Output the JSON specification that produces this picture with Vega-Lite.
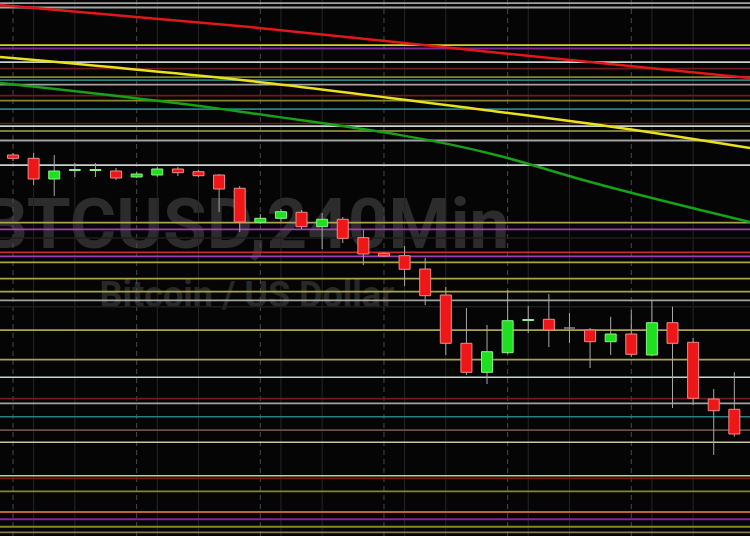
{
  "$schema": "https://vega.github.io/schema/vega-lite/v6.json",
  "autosize": {"type": "none"},
  "width": 750,
  "height": 536,
  "padding": 0,
  "background": "#050505",
  "config": {"view": {"stroke": null}},
  "resolve": {"scale": {"color": "independent"}},
  "datasets": {
    "labels": [
      {"i": 11.3, "price": 17520, "label": "BTCUSD,240Min", "role": "symbol"},
      {"i": 11.35, "price": 16930, "label": "Bitcoin / US Dollar", "role": "name"}
    ],
    "grid": [
      {"i": 0, "style": "major"}, {"i": 6, "style": "major"}, {"i": 12, "style": "major"},
      {"i": 18, "style": "major"}, {"i": 24, "style": "major"}, {"i": 30, "style": "major"},
      {"i": 1, "style": "minor"}, {"i": 3, "style": "minor"}, {"i": 7, "style": "minor"},
      {"i": 9, "style": "minor"}, {"i": 13, "style": "minor"}, {"i": 15, "style": "minor"},
      {"i": 19, "style": "minor"}, {"i": 21, "style": "minor"}, {"i": 25, "style": "minor"},
      {"i": 27, "style": "minor"}, {"i": 31, "style": "minor"}, {"i": 33, "style": "minor"}
    ],
    "levels": [
      {"price": 19970, "kind": "gray", "weight": "normal"},
      {"price": 19925, "kind": "gray", "weight": "thick"},
      {"price": 19550, "kind": "yellow", "weight": "normal"},
      {"price": 19515, "kind": "purple", "weight": "thick"},
      {"price": 19380, "kind": "silver", "weight": "normal"},
      {"price": 19315, "kind": "maroon", "weight": "normal"},
      {"price": 19230, "kind": "olive", "weight": "normal"},
      {"price": 19200, "kind": "teal", "weight": "normal"},
      {"price": 19155, "kind": "gray", "weight": "normal"},
      {"price": 19045, "kind": "maroon", "weight": "normal"},
      {"price": 18995, "kind": "olive", "weight": "normal"},
      {"price": 18910, "kind": "teal", "weight": "normal"},
      {"price": 18765, "kind": "maroon", "weight": "thin"},
      {"price": 18740, "kind": "silver", "weight": "normal"},
      {"price": 18690, "kind": "khaki", "weight": "thin"},
      {"price": 18595, "kind": "gray", "weight": "thick"},
      {"price": 18350, "kind": "silver", "weight": "normal"},
      {"price": 17773, "kind": "khaki", "weight": "normal"},
      {"price": 17707, "kind": "violet", "weight": "normal"},
      {"price": 17620, "kind": "faint", "weight": "thin"},
      {"price": 17477, "kind": "red", "weight": "normal"},
      {"price": 17437, "kind": "violet", "weight": "normal"},
      {"price": 17377, "kind": "khaki", "weight": "normal"},
      {"price": 17213, "kind": "khaki", "weight": "normal"},
      {"price": 17083, "kind": "khaki", "weight": "normal"},
      {"price": 16997, "kind": "gray", "weight": "normal"},
      {"price": 16933, "kind": "faint", "weight": "thin"},
      {"price": 16700, "kind": "khaki", "weight": "normal"},
      {"price": 16405, "kind": "khaki", "weight": "normal"},
      {"price": 16227, "kind": "silver", "weight": "thin"},
      {"price": 16013, "kind": "maroon", "weight": "normal"},
      {"price": 15967, "kind": "gray", "weight": "normal"},
      {"price": 15833, "kind": "teal", "weight": "thin"},
      {"price": 15700, "kind": "brown", "weight": "normal"},
      {"price": 15577, "kind": "cream", "weight": "thin"},
      {"price": 15243, "kind": "cream", "weight": "thin"},
      {"price": 15217, "kind": "maroon", "weight": "normal"},
      {"price": 15087, "kind": "olive", "weight": "normal"},
      {"price": 14880, "kind": "orange", "weight": "thick"},
      {"price": 14807, "kind": "purple", "weight": "thick"},
      {"price": 14733, "kind": "olive", "weight": "thick"},
      {"price": 14677, "kind": "tan", "weight": "normal"}
    ],
    "ma": [
      {"series": "ma200", "i": -0.631, "price": 19950},
      {"series": "ma200", "i": 11.5, "price": 19730},
      {"series": "ma200", "i": 23.63, "price": 19470},
      {"series": "ma200", "i": 28.48, "price": 19370},
      {"series": "ma200", "i": 35.76, "price": 19220},
      {"series": "ma100", "i": -0.631, "price": 19430},
      {"series": "ma100", "i": 11.5, "price": 19190},
      {"series": "ma100", "i": 23.63, "price": 18880},
      {"series": "ma100", "i": 28.48, "price": 18750},
      {"series": "ma100", "i": 35.76, "price": 18520},
      {"series": "ma50", "i": -0.631, "price": 19170},
      {"series": "ma50", "i": 11.5, "price": 18870},
      {"series": "ma50", "i": 23.63, "price": 18440},
      {"series": "ma50", "i": 27.66, "price": 18200},
      {"series": "ma50", "i": 35.76, "price": 17780}
    ],
    "candles": [
      {"i": 0, "open": 18450, "high": 18470, "low": 18390, "close": 18417},
      {"i": 1, "open": 18417, "high": 18470, "low": 18150, "close": 18210},
      {"i": 2, "open": 18210, "high": 18450, "low": 18040, "close": 18290},
      {"i": 3, "open": 18295, "high": 18370, "low": 18230, "close": 18305},
      {"i": 4, "open": 18295, "high": 18370, "low": 18230, "close": 18305},
      {"i": 5, "open": 18290, "high": 18320, "low": 18200, "close": 18220},
      {"i": 6, "open": 18230, "high": 18280, "low": 18220, "close": 18260},
      {"i": 7, "open": 18250, "high": 18330, "low": 18230, "close": 18310},
      {"i": 8, "open": 18310, "high": 18330, "low": 18240, "close": 18273},
      {"i": 9, "open": 18283, "high": 18300, "low": 18230, "close": 18243},
      {"i": 10, "open": 18250, "high": 18260, "low": 17880, "close": 18110},
      {"i": 11, "open": 18117, "high": 18140, "low": 17680, "close": 17780},
      {"i": 12, "open": 17777, "high": 17860, "low": 17760, "close": 17817},
      {"i": 13, "open": 17817, "high": 17910, "low": 17783, "close": 17883},
      {"i": 14, "open": 17877, "high": 17900, "low": 17710, "close": 17733},
      {"i": 15, "open": 17733, "high": 17870, "low": 17510, "close": 17807},
      {"i": 16, "open": 17807, "high": 17830, "low": 17570, "close": 17617},
      {"i": 17, "open": 17623, "high": 17700, "low": 17350, "close": 17460},
      {"i": 18, "open": 17467, "high": 17480, "low": 17430, "close": 17440},
      {"i": 19, "open": 17443, "high": 17540, "low": 17140, "close": 17307},
      {"i": 20, "open": 17310, "high": 17420, "low": 16950, "close": 17043},
      {"i": 21, "open": 17050, "high": 17130, "low": 16450, "close": 16567},
      {"i": 22, "open": 16567, "high": 16920, "low": 16250, "close": 16277},
      {"i": 23, "open": 16277, "high": 16750, "low": 16160, "close": 16483},
      {"i": 24, "open": 16473, "high": 17100, "low": 16460, "close": 16793},
      {"i": 25, "open": 16795, "high": 16940, "low": 16670, "close": 16805},
      {"i": 26, "open": 16807, "high": 17060, "low": 16530, "close": 16700},
      {"i": 27, "open": 16720, "high": 16870, "low": 16570, "close": 16720},
      {"i": 28, "open": 16700, "high": 16720, "low": 16320, "close": 16583},
      {"i": 29, "open": 16583, "high": 16833, "low": 16450, "close": 16660},
      {"i": 30, "open": 16660, "high": 16900, "low": 16430, "close": 16457},
      {"i": 31, "open": 16450, "high": 17000, "low": 16440, "close": 16773},
      {"i": 32, "open": 16773, "high": 16933, "low": 15920, "close": 16567},
      {"i": 33, "open": 16577, "high": 16620, "low": 15950, "close": 16017},
      {"i": 34, "open": 16010, "high": 16110, "low": 15450, "close": 15893},
      {"i": 35, "open": 15907, "high": 16277, "low": 15633, "close": 15660}
    ]
  },
  "encoding": {
    "x": {"field": "i", "type": "quantitative", "axis": null, "scale": {"domain": [-0.631, 35.76], "nice": false, "zero": false, "padding": 0}},
    "y": {"field": "price", "type": "quantitative", "axis": null, "scale": {"domain": [14640, 20000], "nice": false, "zero": false, "padding": 0}}
  },
  "layer": [
    {
      "data": {"name": "labels"},
      "transform": [{"filter": "datum.role === 'symbol'"}],
      "mark": {"type": "text", "font": "Roboto", "fontWeight": "bold", "fontSize": 71, "align": "center", "baseline": "alphabetic", "color": "#2c2c2c"},
      "encoding": {"text": {"field": "label"}}
    },
    {
      "data": {"name": "labels"},
      "transform": [{"filter": "datum.role === 'name'"}],
      "mark": {"type": "text", "font": "Roboto", "fontWeight": "bold", "fontSize": 36, "align": "center", "baseline": "alphabetic", "color": "#282828"},
      "encoding": {"text": {"field": "label"}}
    },
    {
      "data": {"name": "grid"},
      "transform": [{"filter": "datum.style === 'minor'"}],
      "mark": {"type": "rule", "color": "#262626", "strokeWidth": 1},
      "encoding": {"y": null}
    },
    {
      "data": {"name": "grid"},
      "transform": [{"filter": "datum.style === 'major'"}],
      "mark": {"type": "rule", "color": "#4a4a4a", "strokeWidth": 1, "strokeDash": [5, 4]},
      "encoding": {"y": null}
    },
    {
      "data": {"name": "levels"},
      "mark": {"type": "rule"},
      "encoding": {
        "x": null,
        "color": {"field": "kind", "type": "nominal", "legend": null, "scale": {
          "domain": ["gray", "silver", "yellow", "purple", "violet", "maroon", "red", "olive", "khaki", "cream", "teal", "brown", "orange", "tan", "faint"],
          "range": ["#a2a2a2", "#c8d2d2", "#d8d028", "#7e2a8e", "#a040b0", "#6e1c1c", "#c03020", "#86862e", "#aaa250", "#c8c890", "#2a8080", "#6a5040", "#c06040", "#8a7a50", "#1e1e1e"]}},
        "strokeWidth": {"field": "weight", "type": "nominal", "legend": null, "scale": {"domain": ["thin", "normal", "thick"], "range": [1.5, 2, 3]}}
      }
    },
    {
      "data": {"name": "ma"},
      "mark": {"type": "line", "strokeWidth": 2.5, "interpolate": "monotone"},
      "encoding": {
        "color": {"field": "series", "type": "nominal", "legend": null, "scale": {"domain": ["ma200", "ma100", "ma50"], "range": ["#e01818", "#e8e020", "#18a018"]}}
      }
    },
    {
      "data": {"name": "candles"},
      "mark": {"type": "rule", "color": "#a8a8a8", "strokeWidth": 1},
      "encoding": {
        "y": {"field": "high", "type": "quantitative"},
        "y2": {"field": "low"}
      }
    },
    {
      "data": {"name": "candles"},
      "mark": {"type": "bar", "width": 11, "strokeWidth": 1},
      "encoding": {
        "y": {"field": "open", "type": "quantitative"},
        "y2": {"field": "close"},
        "fill": {"condition": [{"test": "datum.close > datum.open", "value": "#1fe01f"}, {"test": "datum.close < datum.open", "value": "#ee1616"}], "value": "#888888"},
        "stroke": {"condition": [{"test": "datum.close > datum.open", "value": "#8cf08c"}, {"test": "datum.close < datum.open", "value": "#f08a8a"}], "value": "#888888"}
      }
    }
  ]
}
